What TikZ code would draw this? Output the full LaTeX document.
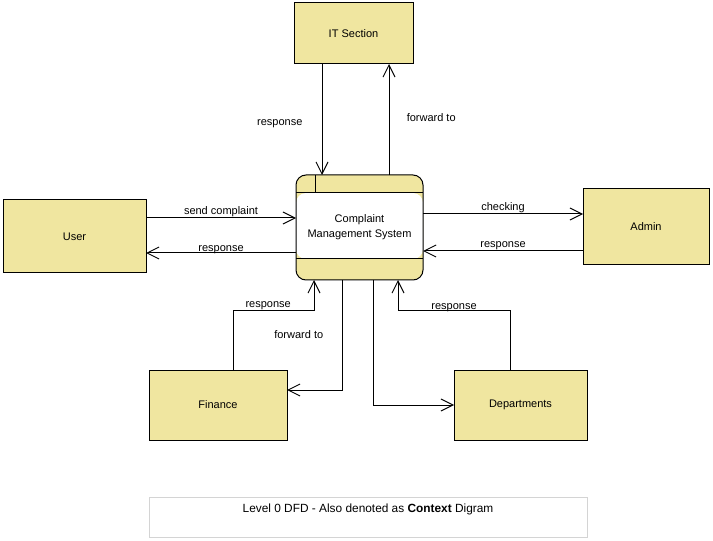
\documentclass[tikz,border=0pt]{standalone}
\usepackage{fontspec}
\setmainfont{Liberation Sans}
\usetikzlibrary{arrows.meta,calc}
\definecolor{boxyellow}{RGB}{240,230,160}
\definecolor{capgray}{RGB}{212,212,212}
\tikzset{
  entity/.style={draw, fill=boxyellow, line width=0.75pt, inner sep=0pt, outer sep=0pt, align=center},
  flow/.style={line width=0.75pt, -{Straight Barb[length=9pt,width=9pt,line width=0.75pt]}},
  flowlabel/.style={above=-2.5pt},
}
\begin{document}
\begin{tikzpicture}[x=0.75pt,y=-0.75pt,font=\fontsize{8.25}{11.25}\selectfont]
    \useasboundingbox (0,0) rectangle (713,541);

    % entités externes
    \node[entity, minimum width=89.25pt, minimum height=45.75pt] (it) at (353.5,33.5) {IT Section};
    \node[entity, minimum width=107.25pt, minimum height=54.75pt] (user) at (74.5,236.5) {User};
    \node[entity, minimum width=94.5pt, minimum height=57pt] (admin) at (646,227) {Admin};
    \node[entity, minimum width=103.5pt, minimum height=52.5pt] (fin) at (218,405) {Finance};
    \node[entity, minimum width=99.75pt, minimum height=52.5pt] (dep) at (520.5,405) {Departments};

    % processus
    \node[entity, rounded corners=7.5pt, minimum width=95.25pt, minimum height=78.75pt,
      path picture={\fill[white] ($(path picture bounding box.north west)+(0,18)$) rectangle ($(path picture bounding box.south east)+(0,-21)$);}]
      (cms) at (359.5,227.5) {Complaint\\Management System};
    \draw[line width=0.75pt] ($(cms.north west)+(0,18)$) -- ($(cms.north east)+(0,18)$);
    \draw[line width=0.75pt] ($(cms.south west)+(0,-21)$) -- ($(cms.south east)+(0,-21)$);
    \draw[line width=0.75pt] ($(cms.north west)+(19,0)$) -- ($(cms.north west)+(19,18)$);

    % flux IT Section
    \draw[flow] ($(it.south west)+(28,0)$) -- node[pos=0.54, left=11pt]{response} ($(cms.north west)+(26,0)$);
    \draw[flow] ($(cms.north west)+(93,0)$) -- node[pos=0.52, right=9.6pt]{forward to} ($(it.south west)+(95,0)$);

    % flux User
    \draw[flow] ($(user.north east)+(0,18)$) -- node[midway, flowlabel]{send complaint} ($(cms.north west)+(0,43)$);
    \draw[flow] ($(cms.north west)+(0,78)$) -- node[midway, flowlabel, yshift=-1.5pt]{response} ($(user.north east)+(0,53)$);

    % flux Admin
    \draw[flow] ($(cms.north east)+(0,39)$) -- node[midway, flowlabel]{checking} ($(admin.north west)+(0,25)$);
    \draw[flow] ($(admin.north west)+(0,62)$) -- node[midway, flowlabel]{response} ($(cms.north east)+(0,76)$);

    % flux Finance
    \draw[flow] ($(fin.north west)+(84,0)$) -- ++(0,-59) -| node[pos=0.25, flowlabel, xshift=-4pt]{response} ($(cms.south west)+(18,0)$);
    \draw[flow] ($(cms.south west)+(46,0)$) |- node[pos=0.25, left=10.4pt]{forward to} ($(fin.north east)+(0,20)$);

    % flux Departments
    \draw[flow] ($(cms.south west)+(77,0)$) |- (dep.west);
    \draw[flow] ($(dep.north west)+(56,0)$) -- ++(0,-59) -| node[pos=0.25, flowlabel, yshift=-1.5pt]{response} ($(cms.south west)+(102,0)$);

    % légende
    \node[draw=capgray, line width=0.75pt, minimum width=328.5pt, minimum height=30pt, inner sep=0pt] (cap) at (368,517) {};
    \node[anchor=north, inner sep=0pt, font=\fontsize{8.9}{11}\selectfont] (captxt) at ($(cap.north)+(0,7)$) {Level 0 DFD - Also denoted as \textbf{Context} Digram};
\end{tikzpicture}
\end{document}
